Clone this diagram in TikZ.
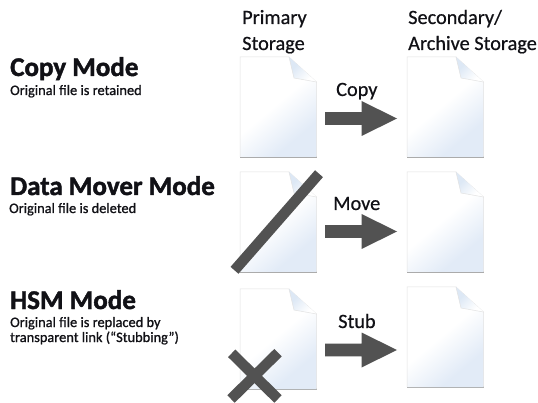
\documentclass[tikz,border=0pt]{standalone}
\usepackage{fontspec}
\setmainfont{Carlito}
\newfontface\headface{Carlito}[FakeBold=0.6]
\newfontface\titleface{Carlito Bold}[FakeBold=1.6]
\newfontface\noteface{Carlito}[FakeBold=1.0]
\definecolor{inkdark}{HTML}{111116}
\definecolor{markgray}{HTML}{525252}
\definecolor{pageblue}{HTML}{E2EBF7}
\definecolor{foldblue}{HTML}{DDE8F5}
\definecolor{pageedge}{HTML}{E2E2E2}
\definecolor{pageshadow}{HTML}{ABABAB}
\pgfdeclareverticalshading{pageshade}{100bp}{color(0bp)=(pageblue); color(30bp)=(pageblue); color(52bp)=(white); color(100bp)=(white)}
\pgfdeclareverticalshading{foldshade}{100bp}{color(0bp)=(foldblue); color(35bp)=(foldblue); color(70bp)=(white); color(100bp)=(white)}
\tikzset{
  x=1pt,y=-1pt,
  lbl/.style={anchor=base west,inner sep=0pt,text=inkdark},
  column head/.style={lbl,font=\fontsize{20.3}{20.3}\headface},
  flow label/.style={lbl,font=\fontsize{20.3}{20.3}\headface},
  mode title/.style={lbl,font=\fontsize{27}{27}\titleface},
  mode note/.style={lbl,font=\fontsize{14.4}{14.4}\noteface},
  strike/.style={draw=markgray,line width=10.5pt},
}
% #1 left, #2 top
\newcommand{\docpage}[2]{%
  \begin{scope}[shift={(#1,#2)}]
    \fill[pageshadow] (0,99.3) rectangle (76.5,100.8);
    \shade[shading=pageshade,shading angle=40]
       (0,0) -- (49,0) -- (76.5,25) -- (76.5,100) -- (0,100) -- cycle;
    \draw[pageedge,line width=.5pt] (0,100) -- (0,0) -- (49,0) -- (76.5,25) -- (76.5,100);
    \shade[shading=foldshade,shading angle=-135] (49,0) -- (76.5,25) -- (54,21) -- cycle;
    \draw[pageedge,line width=.5pt] (49,0) -- (54,21) -- (76.5,25);
  \end{scope}}
% #1 vertical centre of arrow
\newcommand{\blockarrow}[1]{%
  \fill[markgray] (325,#1-6.3) -- (361.5,#1-6.3) -- (361.5,#1-17.5) -- (397,#1) -- (361.5,#1+17.5) -- (361.5,#1+6.3) -- (325,#1+6.3) -- cycle;}
\begin{document}
\begin{tikzpicture}
\useasboundingbox (0,0) rectangle (538,403);
\fill[white] (0,0) rectangle (538,403);
\docpage{240}{57}
\docpage{407}{57}
\docpage{240}{172}
\docpage{407}{172}
\docpage{240}{289}
\docpage{407}{287}
\blockarrow{118.5}
\blockarrow{231.5}
\blockarrow{350}
\draw[strike] (234.5,270.3) -- (319,173.7);
\draw[strike] (231.7,353.3) -- (278,399);
\draw[strike] (278,352.7) -- (231,399);
\node[column head] (h1a) at (242,24) {Primary};
\node[column head] (h1b) at (242,50) {Storage};
\node[column head] (h2a) at (408,24) {Secondary/};
\node[column head] (h2b) at (408,50) {Archive Storage};
\node[flow label] (copy) at (336,96) {Copy};
\node[flow label] (move) at (333,210) {Move};
\node[flow label] (stub) at (338,328) {Stub};
\node[mode title] (t1) at (10,76) {Copy Mode};
\node[mode note] (n1) at (10,95) {Original file is retained};
\node[mode title] (t2) at (10,195) {Data Mover Mode};
\node[mode note] (n2) at (9,213) {Original file is deleted};
\node[mode title] (t3) at (10,309) {HSM Mode};
\node[mode note] (n3a) at (10,327) {Original file is replaced by};
\node[mode note] (n3b) at (10,342) {transparent link (“Stubbing”)};
\end{tikzpicture}
\end{document}
